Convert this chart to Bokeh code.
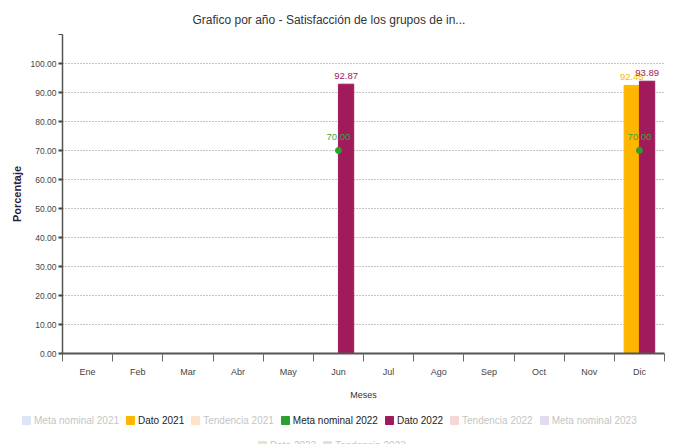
from bokeh.plotting import figure
from bokeh.layouts import column
from bokeh.models import (ColumnDataSource, FixedTicker, Range1d, Legend, LegendItem,
                          NumeralTickFormatter)
from bokeh.core.properties import value
from bokeh.embed import file_html
from bokeh.resources import INLINE

# ---------------- data ----------------
months = ["Ene", "Feb", "Mar", "Abr", "May", "Jun", "Jul", "Ago", "Sep", "Oct", "Nov", "Dic"]
dato_2021 = [None, None, None, None, None, None, None, None, None, None, None, 92.45]
dato_2022 = [None, None, None, None, None, 92.87, None, None, None, None, None, 93.89]
meta_nominal_2022 = [None, None, None, None, None, 70.00, None, None, None, None, None, 70.00]
y_ticks = [0, 10, 20, 30, 40, 50, 60, 70, 80, 90, 100]

legend_row1 = ["Meta nominal 2021", "Dato 2021", "Tendencia 2021", "Meta nominal 2022",
               "Dato 2022", "Tendencia 2022", "Meta nominal 2023"]
legend_row2 = ["Dato 2023", "Tendencia 2023"]

# ---------------- style ----------------
FONT = "Liberation Sans"
GOLD = "#FFB600"
PURPLE = "#A01A5C"
GREEN = "#2BA02B"
LABEL_GREEN = "#3aa83a"
series_colors = {
    "Meta nominal 2021": "#77a7d7",
    "Dato 2021": GOLD,
    "Tendencia 2021": "#f79743",
    "Meta nominal 2022": GREEN,
    "Dato 2022": PURPLE,
    "Tendencia 2022": "#df6b6b",
    "Meta nominal 2023": "#9b83cb",
    "Dato 2023": "#83b357",
    "Tendencia 2023": "#b38383",
}
shown_series = {"Dato 2021", "Meta nominal 2022", "Dato 2022"}
BAR_W = 0.305

p = figure(width=673, height=402, output_backend="svg", toolbar_location=None,
           x_range=Range1d(0, 12), y_range=Range1d(0, 110),
           min_border_left=62, min_border_right=9, min_border_top=34, min_border_bottom=46)
p.outline_line_color = None
p.background_fill_color = "white"
p.border_fill_color = "white"

p.title.text = "Grafico por año - Satisfacción de los grupos de in..."
p.title.align = "left"
p.title.offset = 130
p.title.text_font = FONT
p.title.text_font_size = "12px"
p.title.text_font_style = "normal"
p.title.text_color = "#333333"
p.title.standoff = 16

# ---------------- axes ----------------
xa = p.xaxis[0]
xa.ticker = FixedTicker(ticks=[i + 0.5 for i in range(len(months))],
                        minor_ticks=list(range(len(months) + 1)))
xa.major_label_overrides = {i + 0.5: m for i, m in enumerate(months)}
xa.major_tick_out = 0
xa.major_tick_in = 0
xa.minor_tick_out = 8
xa.minor_tick_in = 0
xa.minor_tick_line_color = "#666666"
xa.minor_tick_line_width = 1
xa.axis_line_color = "#555555"
xa.axis_line_width = 2
xa.major_label_standoff = 5
xa.major_label_text_font = FONT
xa.major_label_text_font_size = "9px"
xa.major_label_text_color = "#444444"
xa.axis_label = "Meses"
xa.axis_label_text_font = FONT
xa.axis_label_text_font_size = "9px"
xa.axis_label_text_font_style = "normal"
xa.axis_label_text_color = "#333333"
xa.axis_label_standoff = 10

ya = p.yaxis[0]
ya.ticker = FixedTicker(ticks=y_ticks, minor_ticks=[110])
ya.formatter = NumeralTickFormatter(format="0.00")
ya.major_tick_out = 4
ya.major_tick_in = 0
ya.minor_tick_out = 4
ya.minor_tick_in = 0
ya.major_tick_line_color = "#444444"
ya.major_tick_line_width = 2
ya.minor_tick_line_color = "#444444"
ya.minor_tick_line_width = 1
ya.axis_line_color = "#555555"
ya.axis_line_width = 1.5
ya.major_label_standoff = 2
ya.major_label_text_font = FONT
ya.major_label_text_font_size = "8.5px"
ya.major_label_text_color = "#444444"
ya.axis_label = "Porcentaje"
ya.axis_label_text_font = FONT
ya.axis_label_text_font_size = "11px"
ya.axis_label_text_font_style = "bold"
ya.axis_label_text_color = "#2a2040"
ya.axis_label_standoff = 5

p.xgrid.grid_line_color = None
p.ygrid.ticker = FixedTicker(ticks=y_ticks[1:])
p.ygrid.grid_line_color = "#8a8a8a"
p.ygrid.grid_line_dash = "1 2"
p.ygrid.grid_line_width = 1

# ---------------- bars ----------------
def bar_source(vals, offset):
    xs, tops, labels = [], [], []
    for i, v in enumerate(vals):
        if v is None:
            continue
        xs.append(i + 0.5 + offset)
        tops.append(v)
        labels.append(f"{v:.2f}")
    return ColumnDataSource(dict(x=xs, top=tops, label=labels))

src21 = bar_source(dato_2021, -BAR_W / 2)
src22 = bar_source(dato_2022, BAR_W / 2)

p.vbar(x="x", top="top", width=BAR_W, bottom=0, source=src21,
       fill_color=GOLD, line_color=GOLD)
p.vbar(x="x", top="top", width=BAR_W, bottom=0, source=src22,
       fill_color=PURPLE, line_color=PURPLE)

p.text(x="x", y="top", text="label", source=src21, text_align="center",
       text_baseline="bottom", y_offset=-5, text_font=value(FONT),
       text_font_size="9.5px", text_color=GOLD)
p.text(x="x", y="top", text="label", source=src22, text_align="center",
       text_baseline="bottom", y_offset=-5, text_font=value(FONT),
       text_font_size="9.5px", text_color=PURPLE)

# ---------------- meta nominal 2022 points ----------------
mx, my, ml = [], [], []
for i, v in enumerate(meta_nominal_2022):
    if v is None:
        continue
    mx.append(i + 0.5)
    my.append(v)
    ml.append(f"{v:.2f}")
msrc = ColumnDataSource(dict(x=mx, y=my, label=ml))
p.scatter(x="x", y="y", source=msrc, size=6, fill_color=GREEN, line_color=GREEN)
p.text(x="x", y="y", text="label", source=msrc, text_align="center",
       text_baseline="bottom", y_offset=-11, text_font=value(FONT),
       text_font_size="9.5px", text_color=LABEL_GREEN)

# ---------------- legend (separate strip below the chart) ----------------
lf = figure(width=673, height=42, output_backend="svg", toolbar_location=None,
            x_range=Range1d(0, 1), y_range=Range1d(0, 1),
            min_border_left=0, min_border_right=0, min_border_top=0, min_border_bottom=0,
            x_axis_location=None, y_axis_location=None)
lf.outline_line_color = None
lf.grid.visible = False
lf.border_fill_color = "white"
x0 = 62
try:
    lf.frame_align = False
    x0 = 0
except Exception:
    x0 = 62

def legend_item(name):
    c = series_colors[name]
    # one swatch point kept outside the strip's visible range (legend swatch only)
    rend = lf.vbar(x="x", top="top", width=0.1, bottom=5,
                   source=ColumnDataSource(dict(x=[5], top=[6])),
                   fill_color=c, line_color=c, visible=name in shown_series)
    return LegendItem(label=name, renderers=[rend])

def make_legend(names, loc):
    return Legend(items=[legend_item(n) for n in names], location=loc,
                  orientation="horizontal", click_policy="hide",
                  inactive_fill_color="white", inactive_fill_alpha=0.72,
                  label_text_font=FONT, label_text_font_size="10px",
                  label_text_color="#222222",
                  glyph_width=10, glyph_height=10, label_standoff=3, spacing=6,
                  label_height=12, padding=0, margin=0,
                  border_line_color=None, background_fill_alpha=0)

lf.add_layout(make_legend(legend_row1, (21 - x0, 18)), "center")
lf.add_layout(make_legend(legend_row2, (257 - x0, -7)), "center")

layout = column(p, lf, spacing=0)
open("out.html", "w").write(file_html(layout, INLINE))
